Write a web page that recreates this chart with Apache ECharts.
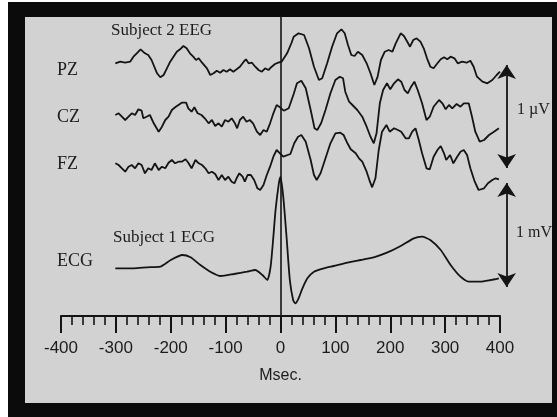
<!DOCTYPE html>
<html>
<head>
<meta charset="utf-8">
<script src="https://cdn.jsdelivr.net/npm/echarts@6/dist/echarts.min.js"></script>
<style>
  html, body { margin: 0; padding: 0; background: #fff; }
  #frame { position: absolute; left: 8px; top: 2px; width: 549px; height: 415px; background: #0b0b0b; }
  #panel { position: absolute; left: 25px; top: 17px; width: 527px; height: 386px; background: #d2d2d2; }
  #main { position: absolute; left: 0; top: 0; width: 557px; height: 417px; }
</style>
</head>
<body>
<div id="frame"></div>
<div id="panel"></div>
<div id="main"></div>
<script>
// time in msec, value = height above the time axis (arbitrary units)
const pzData = [
  [-301, 252.7], [-292, 254.3], [-283, 253.3], [-274, 254.3], [-268, 259.3], [-262, 262.7],
  [-255, 266.7], [-247, 262.7], [-241, 261], [-235, 256], [-225, 242.7], [-219, 238.7],
  [-213, 241], [-207, 247.7], [-201, 254.3], [-195, 259.3], [-189, 264.3], [-183, 266.7],
  [-177, 270], [-171, 267.7], [-165, 262.7], [-159, 259.3], [-154, 256], [-149, 257.7],
  [-143, 253.3], [-134, 247.7], [-128, 241], [-122, 242.7], [-116, 245.3], [-110, 243.3],
  [-104, 246], [-98, 244.3], [-92, 246.7], [-86, 244.3], [-80, 246.7], [-74, 249.3],
  [-67, 254.3], [-63, 256.7], [-58, 252.7], [-52, 253.3], [-46, 249.3], [-40, 246],
  [-34, 244.3], [-28, 247.7], [-22, 246], [-16, 249.3], [-10, 252], [-4, 253.3],
  [2, 254.3], [12, 262.7], [20, 273], [24, 279.3], [33, 282.7], [43, 281],
  [52, 267.7], [61, 249.3], [70, 236], [76, 237.7], [85, 252.7], [94, 269.3],
  [103, 282.7], [111, 286.7], [117, 282.7], [123, 271], [129, 261], [135, 260],
  [141, 264.3], [149, 261], [157, 252.7], [164, 242.7], [171, 231], [177, 239.3],
  [183, 256], [190, 264.3], [197, 266], [204, 264.3], [210, 272.7], [219, 282.7],
  [225, 280], [231, 274.3], [236, 269.3], [242, 276], [248, 277.7], [255, 274.3],
  [261, 267.7], [267, 257.7], [273, 249.3], [279, 247.7], [286, 252.7], [292, 256.7],
  [298, 258.7], [304, 256.7], [310, 259.3], [317, 257.7], [323, 252.7], [331, 254.3],
  [339, 253.3], [346, 255.3], [352, 249.3], [358, 239.3], [368, 234.3], [377, 232.7],
  [386, 236], [394, 241], [400, 244.3]
];
const czData = [
  [-301, 201], [-295, 202.7], [-289, 199.3], [-283, 196], [-277, 199.3], [-271, 202.7],
  [-265, 201], [-259, 206.7], [-253, 205.3], [-250, 197.7], [-244, 199.3], [-238, 201],
  [-231, 192.7], [-222, 184.3], [-216, 189.3], [-210, 196], [-204, 199.3], [-198, 206],
  [-192, 208.7], [-186, 211], [-180, 213.3], [-172, 213.3], [-168, 207.7], [-162, 204.3],
  [-157, 208.7], [-151, 202.7], [-144, 201], [-138, 197.7], [-131, 192.7], [-125, 196],
  [-119, 190], [-113, 192.7], [-107, 189.3], [-101, 196], [-95, 194.3], [-89, 197.7],
  [-83, 192.7], [-79, 187.7], [-74, 196], [-68, 199.3], [-62, 194.3], [-56, 196],
  [-50, 192.7], [-43, 184.3], [-37, 181], [-31, 186], [-25, 184.3], [-19, 192.7],
  [-13, 202.7], [-7, 211], [-1, 208.7], [6, 205.3], [15, 207.7], [24, 222],
  [30, 232.7], [38, 235.3], [46, 227.7], [55, 206], [62, 187.7], [67, 186],
  [74, 192.7], [82, 206], [91, 222.7], [100, 236], [108, 239.3], [114, 237.7],
  [118, 224.3], [125, 214.3], [131, 211], [140, 206], [149, 199.3], [157, 189.3],
  [164, 179.3], [170, 172.7], [175, 182.7], [181, 212.7], [187, 226], [194, 232.7],
  [200, 226.7], [207, 232.7], [214, 236.7], [220, 234.3], [226, 226], [232, 222.7],
  [238, 229.3], [244, 234.3], [250, 226], [258, 212.7], [266, 196], [272, 199.3],
  [279, 209.3], [289, 216], [295, 212.7], [301, 206.7], [307, 211], [313, 207.7],
  [321, 212], [328, 209.3], [334, 212.7], [343, 212.7], [349, 199.3], [355, 184.3],
  [363, 174.3], [371, 176], [380, 181], [389, 184.3], [398, 187.7]
];
const fzData = [
  [-301, 152.7], [-295, 151], [-289, 147.7], [-283, 144.3], [-277, 149.3], [-271, 151],
  [-265, 147.7], [-259, 152.7], [-253, 151], [-247, 142.7], [-241, 147.7], [-235, 146],
  [-229, 152.7], [-222, 146], [-216, 149.3], [-210, 147.7], [-204, 153.3], [-198, 156],
  [-192, 152.7], [-186, 154.3], [-180, 154.3], [-173, 156.7], [-168, 153.3], [-162, 147.7],
  [-155, 156], [-149, 152.7], [-143, 151], [-137, 147.7], [-131, 142.7], [-125, 144.3],
  [-119, 142], [-113, 136], [-107, 141], [-101, 136], [-95, 139.3], [-89, 134.3],
  [-84, 132.7], [-80, 137.7], [-75, 142.7], [-69, 139.3], [-65, 134.3], [-60, 141],
  [-54, 141], [-48, 136], [-42, 127.7], [-37, 126], [-31, 131], [-25, 141],
  [-19, 149.3], [-13, 159.3], [-7, 166], [-1, 162.7], [5, 159.3], [18, 162],
  [25, 172.7], [32, 179.3], [38, 181], [46, 174.3], [55, 156], [61, 141],
  [66, 136], [73, 142.7], [82, 157.7], [91, 172.7], [100, 182.7], [109, 183.3],
  [115, 181], [122, 172.7], [128, 166.7], [137, 162.7], [143, 157.7], [149, 154.3],
  [157, 144.3], [163, 134.3], [167, 128.7], [173, 137.7], [179, 166], [185, 184.3],
  [193, 191], [199, 184.3], [207, 187.7], [214, 186], [220, 184.3], [228, 177.7],
  [234, 177.7], [240, 184.3], [246, 187.7], [252, 176], [258, 162.7], [266, 147.7],
  [272, 146.7], [279, 159.3], [286, 166], [292, 170], [298, 162.7], [302, 156],
  [309, 161], [315, 152.7], [322, 159.3], [328, 164.3], [334, 166], [340, 161],
  [346, 147.7], [354, 134.3], [361, 126], [371, 127.7], [378, 132.7], [386, 136],
  [392, 137.7], [398, 136.7]
];
const ecgData = [
  [-301, 47.7], [-267, 47.7], [-243, 48.7], [-219, 49.3], [-200, 56], [-179, 61],
  [-164, 58.7], [-146, 51], [-128, 44.3], [-109, 40], [-85, 42], [-61, 44.3],
  [-46, 46], [-33, 41], [-24, 36], [-18, 49.3], [-13, 79.3], [-9, 106],
  [-3, 132.7], [0, 139], [5, 119.3], [11, 79.3], [17, 36], [23, 16],
  [27, 12.7], [33, 17.7], [40, 27.7], [49, 37.7], [61, 44.3], [79, 47.7],
  [97, 50], [122, 53.3], [146, 56], [170, 58.7], [194, 63.3], [219, 70],
  [243, 77.7], [258, 79.3], [273, 76], [292, 66], [310, 51], [328, 39.3],
  [343, 34.3], [364, 34.3], [383, 36], [398, 37.7]
];
const xTicks = { min: -400, max: 400, step: 100 };
// calibration bars: [time, from, to]
const uvBar = [412, 251, 148];
const mvBar = [412, 133, 29];

const ink = '#141414';
const serif = '"Liberation Serif", "Times New Roman", serif';

function trace(name, data, smooth) {
  return {
    name: name,
    type: 'line',
    data: data,
    showSymbol: false,
    smooth: smooth,
    clip: false,
    lineStyle: { color: ink, width: 1.8 },
    silent: true
  };
}

function label(text, x, y, size) {
  return {
    type: 'text',
    z: 100,
    style: {
      text: text, x: x, y: y,
      font: size + 'px ' + serif,
      fill: '#1c1c1c',
      textAlign: 'left', align: 'left',
      textVerticalAlign: 'middle', verticalAlign: 'middle'
    }
  };
}

let myChart = echarts.init(document.getElementById('main'));

const pzSeries = trace('PZ', pzData, false);
pzSeries.markLine = {
  silent: true,
  symbol: 'none',
  label: { show: false },
  lineStyle: { color: ink, width: 1.6, type: 'solid' },
  data: [{ xAxis: 0 }]
};

myChart.setOption({
  backgroundColor: 'transparent',
  animation: false,
  grid: [
    { left: 61, right: 57, top: 16, bottom: 101 },
    // same scale, extended to the right for the calibration bars
    { left: 61, right: 13, top: 16, bottom: 101 }
  ],
  xAxis: [{
    type: 'value',
    gridIndex: 0,
    min: xTicks.min,
    max: xTicks.max,
    interval: xTicks.step,
    name: 'Msec.',
    nameLocation: 'middle',
    nameGap: 52,
    nameTextStyle: { fontFamily: '"Liberation Sans", Arial, sans-serif', fontSize: 16, color: '#1c1c1c' },
    axisLine: { show: true, lineStyle: { color: ink, width: 2 } },
    axisTick: { show: true, length: 17, lineStyle: { color: ink, width: 2 } },
    minorTick: { show: true, splitNumber: 5, length: 9, lineStyle: { color: ink, width: 1.6 } },
    axisLabel: {
      margin: 24,
      fontFamily: '"Liberation Sans", Arial, sans-serif',
      fontSize: 17,
      color: '#1c1c1c'
    },
    splitLine: { show: false },
    minorSplitLine: { show: false }
  }, {
    type: 'value', gridIndex: 1, min: -400, max: 480, show: false
  }],
  yAxis: [
    { type: 'value', gridIndex: 0, min: 0, max: 300, show: false },
    { type: 'value', gridIndex: 1, min: 0, max: 300, show: false }
  ],
  series: [
    pzSeries,
    trace('CZ', czData, false),
    trace('FZ', fzData, false),
    trace('ECG', ecgData, 0.2),
    {
      name: 'scale',
      type: 'lines',
      coordinateSystem: 'cartesian2d',
      xAxisIndex: 1,
      yAxisIndex: 1,
      silent: true,
      symbol: ['arrow', 'arrow'],
      symbolSize: [14, 14],
      lineStyle: { color: ink, width: 1.8, opacity: 1 },
      data: [
        { coords: [[uvBar[0], uvBar[1]], [uvBar[0], uvBar[2]]] },
        { coords: [[mvBar[0], mvBar[1]], [mvBar[0], mvBar[2]]] }
      ]
    }
  ],
  graphic: [
    label('Subject 2 EEG', 111, 31, 17),
    label('PZ', 57, 70, 18),
    label('CZ', 57, 117, 18),
    label('FZ', 57, 164, 18),
    label('Subject 1 ECG', 113, 238, 17),
    label('ECG', 57, 261, 18),
    label('1 \u00b5V', 517, 110, 16),
    label('1 mV', 516, 233, 16)
  ]
});
</script>
</body>
</html>
